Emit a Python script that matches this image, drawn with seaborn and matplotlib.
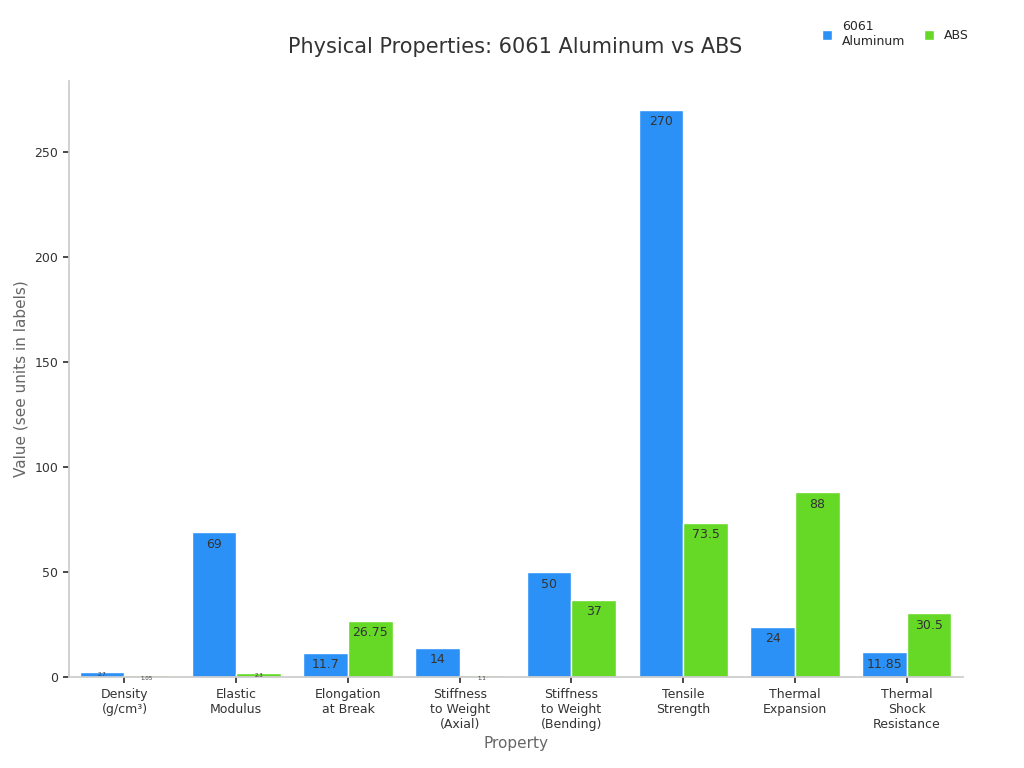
import matplotlib
matplotlib.use("Agg")
import matplotlib.pyplot as plt
import seaborn as sns
import pandas as pd

categories = ["Density\n(g/cm³)", "Elastic\nModulus", "Elongation\nat Break", "Stiffness\nto Weight\n(Axial)",
              "Stiffness\nto Weight\n(Bending)", "Tensile\nStrength", "Thermal\nExpansion", "Thermal\nShock\nResistance"]
aluminum = [2.7, 69, 11.7, 14, 50, 270, 24, 11.85]
abs_vals = [1.05, 2.3, 26.75, 1.1, 37, 73.5, 88, 30.5]
series = ["6061\nAluminum", "ABS"]

df = pd.DataFrame({"Property": categories * 2,
                   "Value": aluminum + abs_vals,
                   "Material": [series[0]] * 8 + [series[1]] * 8})

sns.set_theme(style="white")
fig, ax = plt.subplots(figsize=(10.24, 7.68), dpi=100)
sns.barplot(data=df, x="Property", y="Value", hue="Material", palette=["#2b91f7", "#66d926"],
            ax=ax, width=0.8, edgecolor="white", linewidth=1, saturation=1)
for cont in ax.containers:
    labels = [f"{v:g}" for v in cont.datavalues]
    for bar, lab, v in zip(cont, labels, cont.datavalues):
        fs = 9 if v >= 8 else 4
        ax.text(bar.get_x() + bar.get_width() / 2, v - (2.5 if v >= 8 else 0.3), lab,
                ha="center", va="top", fontsize=fs, color="#333333")
ax.set_title("Physical Properties: 6061 Aluminum vs ABS", fontsize=15, color="#333333", pad=20)
ax.set_xlabel("Property", fontsize=11, color="#666666")
ax.set_ylabel("Value (see units in labels)", fontsize=11, color="#666666")
ax.tick_params(axis="both", labelsize=9, colors="#333333", length=4, bottom=True, left=True)
ax.set_ylim(0, 284)
ax.set_yticks([0, 50, 100, 150, 200, 250])
for s in ["top", "right"]:
    ax.spines[s].set_visible(False)
for s in ["left", "bottom"]:
    ax.spines[s].set_color("#cccccc")
ax.legend(title=None, frameon=False, ncol=2, loc="upper right", bbox_to_anchor=(1.02, 1.12),
          fontsize=9, handlelength=0.8, handleheight=0.8, columnspacing=1.5)
plt.subplots_adjust(left=0.067, right=0.94, top=0.895, bottom=0.118)
fig.savefig("out.png")
